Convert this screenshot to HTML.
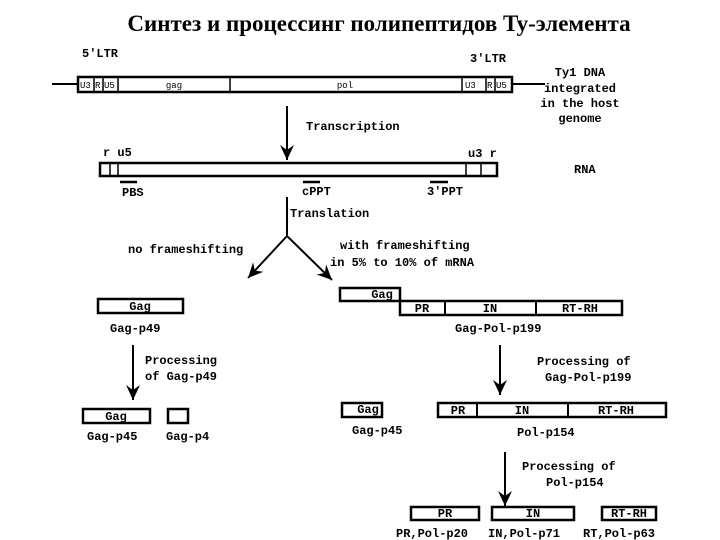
<!DOCTYPE html>
<html><head><meta charset="utf-8"><style>
body{margin:0;background:#fff;}
svg{display:block}
text{font-family:"Liberation Mono",monospace;font-weight:bold;font-size:12px;fill:#000}
.t{font-family:"Liberation Serif",serif;font-size:23px;font-weight:bold}
.s{font-size:9px;font-weight:normal}
rect{fill:#fff;stroke:#000;stroke-width:2.5}
line{stroke:#000;stroke-width:2}
</style></head><body>
<svg width="720" height="540" viewBox="0 0 720 540">
<defs><marker id="a" markerWidth="16" markerHeight="14" refX="15" refY="7" orient="auto" markerUnits="userSpaceOnUse"><path d="M0,0 L15,7 L0,14 L5,7 Z" fill="#000"/></marker></defs>
<text x="379" y="31" text-anchor="middle" class="t">Синтез и процессинг полипептидов Ty-элемента</text>
<!-- DNA -->
<line x1="52" y1="84" x2="545" y2="84"/>
<rect x="78" y="77" width="434" height="15"/>
<line x1="94" y1="77" x2="94" y2="92" style="stroke-width:1.5"/>
<line x1="103" y1="77" x2="103" y2="92" style="stroke-width:1.5"/>
<line x1="118" y1="77" x2="118" y2="92" style="stroke-width:1.5"/>
<line x1="230" y1="77" x2="230" y2="92" style="stroke-width:1.5"/>
<line x1="462" y1="77" x2="462" y2="92" style="stroke-width:1.5"/>
<line x1="486" y1="77" x2="486" y2="92" style="stroke-width:1.5"/>
<line x1="495" y1="77" x2="495" y2="92" style="stroke-width:1.5"/>
<text x="80" y="88" class="s">U3</text><text x="95" y="88" class="s">R</text><text x="104" y="88" class="s">U5</text>
<text x="174" y="88" class="s" text-anchor="middle">gag</text><text x="345" y="88" class="s" text-anchor="middle">pol</text>
<text x="465" y="88" class="s">U3</text><text x="487" y="88" class="s">R</text><text x="496" y="88" class="s">U5</text>
<text x="82" y="57">5'LTR</text><text x="470" y="62">3'LTR</text>
<text x="580" y="76" text-anchor="middle">Ty1 DNA</text>
<text x="580" y="92" text-anchor="middle">integrated</text>
<text x="580" y="107" text-anchor="middle">in the host</text>
<text x="580" y="122" text-anchor="middle">genome</text>
<!-- transcription -->
<line x1="287" y1="106" x2="287" y2="160" marker-end="url(#a)"/>
<text x="306" y="130">Transcription</text>
<!-- RNA -->
<rect x="100" y="163" width="397" height="13"/>
<line x1="110" y1="163" x2="110" y2="176" style="stroke-width:1.5"/>
<line x1="118" y1="163" x2="118" y2="176" style="stroke-width:1.5"/>
<line x1="466" y1="163" x2="466" y2="176" style="stroke-width:1.5"/>
<line x1="481" y1="163" x2="481" y2="176" style="stroke-width:1.5"/>
<text x="103" y="156">r u5</text><text x="468" y="157">u3 r</text><text x="574" y="173">RNA</text>
<line x1="120" y1="182" x2="137" y2="182" style="stroke-width:2.5"/>
<line x1="303" y1="182" x2="320" y2="182" style="stroke-width:2.5"/>
<line x1="430" y1="182" x2="448" y2="182" style="stroke-width:2.5"/>
<text x="122" y="196">PBS</text><text x="302" y="195">cPPT</text><text x="427" y="195">3'PPT</text>
<!-- translation -->
<line x1="287" y1="197" x2="287" y2="236"/>
<line x1="287" y1="236" x2="248" y2="278" marker-end="url(#a)"/>
<line x1="287" y1="236" x2="332" y2="280" marker-end="url(#a)"/>
<text x="290" y="217">Translation</text>
<text x="128" y="253">no frameshifting</text>
<text x="340" y="249">with frameshifting</text>
<text x="330" y="266">in 5% to 10% of mRNA</text>
<!-- left -->
<rect x="98" y="299" width="85" height="14"/>
<text x="140" y="310" text-anchor="middle">Gag</text>
<text x="110" y="332">Gag-p49</text>
<line x1="133" y1="345" x2="133" y2="400" marker-end="url(#a)"/>
<text x="145" y="364">Processing</text><text x="145" y="380">of Gag-p49</text>
<rect x="83" y="409" width="67" height="14"/>
<text x="116" y="420" text-anchor="middle">Gag</text>
<rect x="168" y="409" width="20" height="14"/>
<text x="87" y="440">Gag-p45</text><text x="166" y="440">Gag-p4</text>
<!-- right -->
<rect x="340" y="288" width="60" height="13"/>
<text x="382" y="298" text-anchor="middle">Gag</text>
<rect x="400" y="301" width="222" height="14"/>
<line x1="445" y1="301" x2="445" y2="315"/><line x1="536" y1="301" x2="536" y2="315"/>
<text x="422" y="312" text-anchor="middle">PR</text><text x="490" y="312" text-anchor="middle">IN</text><text x="580" y="312" text-anchor="middle">RT-RH</text>
<text x="455" y="332">Gag-Pol-p199</text>
<line x1="500" y1="345" x2="500" y2="395" marker-end="url(#a)"/>
<text x="537" y="365">Processing of</text><text x="545" y="381">Gag-Pol-p199</text>
<rect x="342" y="403" width="40" height="14"/>
<text x="368" y="413" text-anchor="middle">Gag</text>
<text x="352" y="434">Gag-p45</text>
<rect x="438" y="403" width="228" height="14"/>
<line x1="477" y1="403" x2="477" y2="417"/><line x1="568" y1="403" x2="568" y2="417"/>
<text x="458" y="414" text-anchor="middle">PR</text><text x="522" y="414" text-anchor="middle">IN</text><text x="616" y="414" text-anchor="middle">RT-RH</text>
<text x="517" y="436">Pol-p154</text>
<line x1="505" y1="452" x2="505" y2="506" marker-end="url(#a)"/>
<text x="522" y="470">Processing of</text><text x="546" y="486">Pol-p154</text>
<rect x="411" y="507" width="68" height="13"/><text x="445" y="517" text-anchor="middle">PR</text>
<rect x="492" y="507" width="82" height="13"/><text x="533" y="517" text-anchor="middle">IN</text>
<rect x="602" y="507" width="54" height="13"/><text x="629" y="517" text-anchor="middle">RT-RH</text>
<text x="396" y="537">PR,Pol-p20</text><text x="488" y="537">IN,Pol-p71</text><text x="583" y="537">RT,Pol-p63</text>
</svg>
</body></html>
